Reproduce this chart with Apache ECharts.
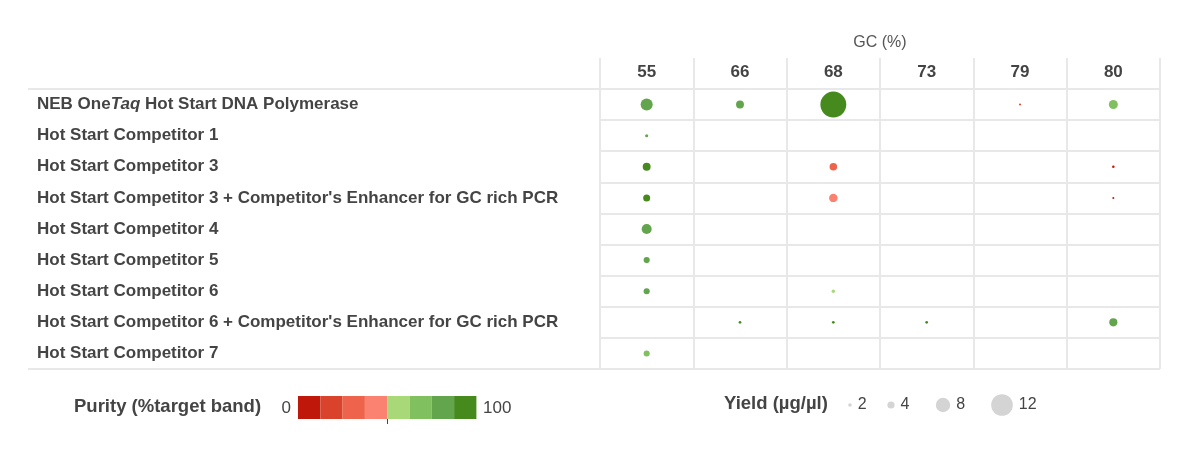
<!DOCTYPE html>
<html>
<head>
<meta charset="utf-8">
<script src="https://cdn.jsdelivr.net/npm/echarts@6/dist/echarts.min.js"></script>
<style>
html,body{margin:0;padding:0;background:#fff;}
#chart{width:1200px;height:455px;}
</style>
</head>
<body>
<div id="chart"></div>
<script>
// ---- data ----
const gcLabels = ['55', '66', '68', '73', '79', '80'];
const rowLabels = [
  'NEB OneTaq Hot Start DNA Polymerase',
  'Hot Start Competitor 1',
  'Hot Start Competitor 3',
  "Hot Start Competitor 3 + Competitor's Enhancer for GC rich PCR",
  'Hot Start Competitor 4',
  'Hot Start Competitor 5',
  'Hot Start Competitor 6',
  "Hot Start Competitor 6 + Competitor's Enhancer for GC rich PCR",
  'Hot Start Competitor 7'
];
// yield (µg/µl) per row, per GC column (null = no product)
const yieldValues = [
  [6.7, 4.4, 14.4, null, 1.1, 5.0],
  [1.7, null, null, null, null, null],
  [4.4, null, 4.2, null, null, 1.4],
  [3.9, null, 4.7, null, null, 1.1],
  [5.6, null, null, null, null, null],
  [3.4, null, null, null, null, null],
  [3.4, null, 1.9, null, null, null],
  [null, 1.5, 1.5, 1.5, null, 4.5],
  [3.4, null, null, null, null, null]
];
// purity (% target band) per row, per GC column
const purityValues = [
  [80, 80, 95, null, 20, 70],
  [80, null, null, null, null, null],
  [95, null, 30, null, null, 5],
  [95, null, 45, null, null, 8],
  [80, null, null, null, null, null],
  [82, null, null, null, null, null],
  [80, null, 55, null, null, null],
  [null, 95, 95, 95, null, 80],
  [70, null, null, null, null, null]
];
const purityBreaks = [0, 12.5, 25, 37.5, 50, 62.5, 75, 87.5, 100];
const purityColors = ['#c0170b', '#d9432b', '#ee634b', '#fb8170', '#a9d879', '#80c05f', '#62a54c', '#468a1d'];
const purityEnds = ['0', '100'];
const legendYields = [2, 4, 8, 12];

// ---- build ----
const FONT = "'Liberation Sans', Arial, sans-serif";
const GRID = '#e8e8e8';
const sizeOf = y => y * 1.8;

const points = [];
yieldValues.forEach((row, r) => {
  row.forEach((y, c) => {
    if (y != null) points.push([c, r, y, purityValues[r][c]]);
  });
});

const pieces = purityColors.map((col, i) => ({min: purityBreaks[i], max: purityBreaks[i + 1], color: col}));

const legendCenters = [850, 891, 943, 1002];
const yieldGraphics = [];
legendYields.forEach((v, i) => {
  const r = sizeOf(v) / 2;
  yieldGraphics.push({type: 'circle', shape: {cx: legendCenters[i], cy: 405, r: r}, style: {fill: '#d4d4d4'}, silent: true});
  yieldGraphics.push({type: 'text', x: legendCenters[i] + r + 6, y: 405,
    style: {text: String(v), fill: '#444', font: '16px ' + FONT, textVerticalAlign: 'middle'}, silent: true});
});

const chart = echarts.init(document.getElementById('chart'));
chart.setOption({
  animation: false,
  backgroundColor: '#fff',
  grid: {left: 600, right: 40, top: 89, bottom: 86},
  xAxis: {
    type: 'category',
    position: 'top',
    data: gcLabels,
    boundaryGap: true,
    name: 'GC (%)',
    nameLocation: 'middle',
    nameGap: 38,
    nameTextStyle: {fontFamily: FONT, fontSize: 16, color: '#555'},
    axisLine: {show: true, lineStyle: {color: GRID, width: 2}},
    axisTick: {show: true, length: 31, lineStyle: {color: GRID, width: 2}},
    axisLabel: {fontFamily: FONT, fontSize: 17, fontWeight: 'bold', color: '#444', margin: 8},
    splitLine: {show: true, lineStyle: {color: GRID, width: 2}}
  },
  yAxis: {
    type: 'category',
    inverse: true,
    data: rowLabels,
    boundaryGap: true,
    axisLine: {show: true, lineStyle: {color: GRID, width: 2}},
    axisTick: {show: false},
    splitLine: {show: true, lineStyle: {color: GRID, width: 2}},
    axisLabel: {
      align: 'left',
      margin: 563,
      fontFamily: FONT, fontSize: 17, fontWeight: 'bold', color: '#444',
      formatter: v => {
        if (v.indexOf('Taq') < 0) return v;
        const parts = v.split('Taq');
        return '{b|' + parts[0] + '}{i|Taq}{b|' + parts[1] + '}';
      },
      rich: {
        b: {fontFamily: FONT, fontSize: 17, fontWeight: 'bold', color: '#444'},
        i: {fontFamily: FONT, fontSize: 17, fontWeight: 'bold', fontStyle: 'italic', color: '#444'}
      }
    }
  },
  visualMap: {
    type: 'piecewise',
    seriesIndex: 0,
    dimension: 3,
    orient: 'horizontal',
    left: 298,
    top: 396,
    padding: 0,
    itemWidth: 22.3,
    itemHeight: 23,
    itemGap: 0,
    itemSymbol: 'rect',
    selectedMode: false,
    hoverLink: false,
    showLabel: false,
    pieces: pieces
  },
  series: [{
    type: 'scatter',
    data: points,
    symbolSize: v => sizeOf(v[2]),
    itemStyle: {opacity: 1},
    emphasis: {disabled: true}
  }],
  graphic: [
    {type: 'line', shape: {x1: 28, y1: 89, x2: 600, y2: 89}, style: {stroke: GRID, lineWidth: 2}, silent: true},
    {type: 'line', shape: {x1: 28, y1: 369, x2: 600, y2: 369}, style: {stroke: GRID, lineWidth: 2}, silent: true},
    {type: 'line', shape: {x1: 387.5, y1: 419, x2: 387.5, y2: 424}, style: {stroke: '#444', lineWidth: 1}, silent: true, z: 10},
    {type: 'text', x: 291, y: 408, style: {text: purityEnds[0], fill: '#444', font: '17px ' + FONT, textAlign: 'right', textVerticalAlign: 'middle'}, silent: true},
    {type: 'text', x: 483, y: 408, style: {text: purityEnds[1], fill: '#444', font: '17px ' + FONT, textAlign: 'left', textVerticalAlign: 'middle'}, silent: true},
    {type: 'text', x: 74, y: 407, style: {text: 'Purity (%target band)', fill: '#444', font: 'bold 18.5px ' + FONT, textVerticalAlign: 'middle'}, silent: true},
    {type: 'text', x: 724, y: 404, style: {text: 'Yield (µg/µl)', fill: '#444', font: 'bold 18.5px ' + FONT, textVerticalAlign: 'middle'}, silent: true}
  ].concat(yieldGraphics)
});
</script>
</body>
</html>
